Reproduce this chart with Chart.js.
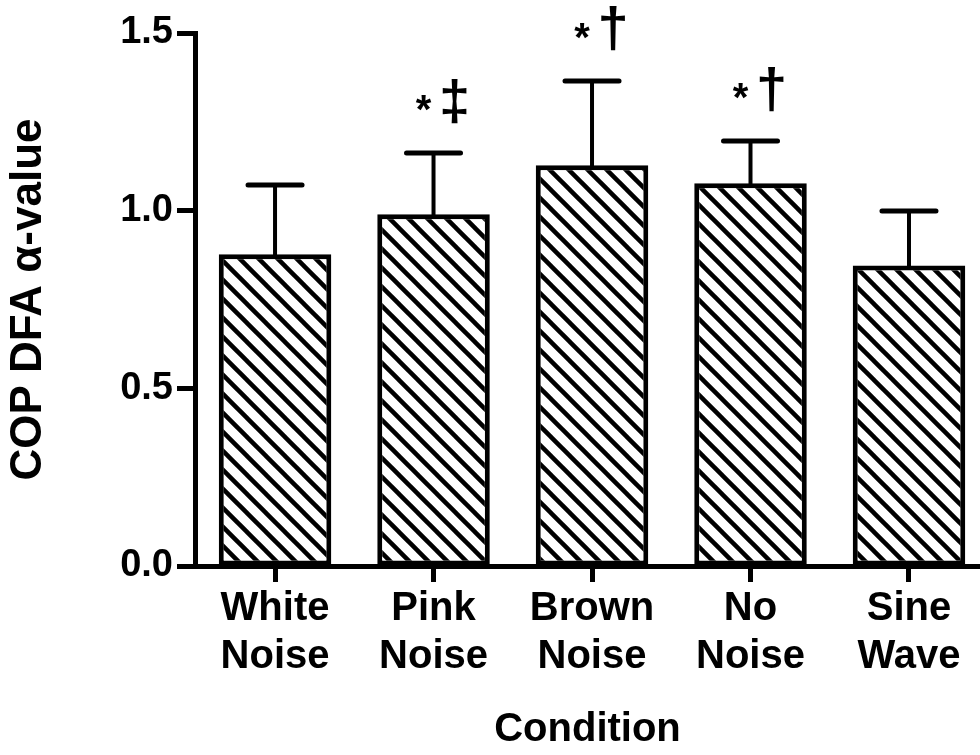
<!DOCTYPE html>
<html>
<head>
<meta charset="utf-8">
<script src="https://cdn.jsdelivr.net/npm/chart.js@4.4.1/dist/chart.umd.min.js"></script>
<style>
  html, body { margin: 0; padding: 0; background: #fff; }
</style>
</head>
<body>
<canvas id="dfaChart" width="980" height="755"></canvas>
<script>
// values
const conditions = [['White', 'Noise'], ['Pink', 'Noise'], ['Brown', 'Noise'], ['No', 'Noise'], ['Sine', 'Wave']];
const meanAlpha = [0.877, 0.99, 1.128, 1.077, 0.846];
const sdAlpha = [0.195, 0.172, 0.237, 0.119, 0.153];
const stars = ['', '*', '*', '*', ''];
const daggers = ['', '‡', '†', '†', ''];
const yTicks = [0, 0.5, 1.0, 1.5];

const FONT = "'Liberation Sans', Arial, Helvetica, sans-serif";

// diagonal hatch fill for the bars
function makeHatch() {
    const s = 19;
    const c = document.createElement('canvas');
    c.width = s;
    c.height = s;
    const g = c.getContext('2d');
    g.fillStyle = '#fff';
    g.fillRect(0, 0, s, s);
    g.strokeStyle = '#000';
    g.lineWidth = 4.5;
    // lines run past the tile edges so the tiles join without gaps
    [-s, 0, s].forEach(k => {
        g.beginPath();
        g.moveTo(k - s, -s);
        g.lineTo(k + 2 * s, 2 * s);
        g.stroke();
    });
    return g.createPattern(c, 'repeat');
}

// draw glyph centred on (x, y) using its real ink box
function centredGlyph(ctx, txt, x, y) {
    const m = ctx.measureText(txt);
    const h = m.actualBoundingBoxAscent + m.actualBoundingBoxDescent;
    ctx.textAlign = 'center';
    ctx.textBaseline = 'alphabetic';
    ctx.fillText(txt, x, y + h / 2 - m.actualBoundingBoxDescent);
}

// SD bars (upper only) and significance marks
const errorBars = {
    id: 'errorBars',
    afterDatasetsDraw(chart) {
        const { ctx, scales: { x, y } } = chart;
        ctx.save();
        ctx.strokeStyle = '#000';
        ctx.fillStyle = '#000';
        ctx.lineCap = 'round';
        meanAlpha.forEach((m, i) => {
            const px = x.getPixelForValue(i);
            const base = y.getPixelForValue(m);
            const top = y.getPixelForValue(m + sdAlpha[i]);
            ctx.lineWidth = 4;
            ctx.beginPath();
            ctx.moveTo(px, base);
            ctx.lineTo(px, top);
            ctx.stroke();
            ctx.lineWidth = 5;
            ctx.beginPath();
            ctx.moveTo(px - 27, top);
            ctx.lineTo(px + 27, top);
            ctx.stroke();

            if (stars[i]) {
                ctx.font = 'bold 40px ' + FONT;
                centredGlyph(ctx, stars[i], px - 10, top - 50);
            }
            if (daggers[i]) {
                ctx.font = 'bold 56px ' + FONT;
                centredGlyph(ctx, daggers[i], px + 21, top - 52);
            }
        });
        ctx.restore();
    }
};

const ctx = document.getElementById('dfaChart').getContext('2d');
new Chart(ctx, {
    type: 'bar',
    data: {
        datasets: [{
            data: meanAlpha.map((v, i) => ({ x: i, y: v })),
            backgroundColor: makeHatch(),
            borderColor: '#000',
            borderWidth: 5,
            borderSkipped: false,
            barPercentage: 0.71,
            categoryPercentage: 1
        }]
    },
    options: {
        responsive: false,
        animation: false,
        layout: { padding: { left: 0, right: 0, top: 33, bottom: 0 } },
        plugins: { legend: { display: false }, tooltip: { enabled: false } },
        scales: {
            x: {
                type: 'linear',
                offset: false,
                min: -0.505,
                max: 4.448,
                afterBuildTicks: s => { s.ticks = conditions.map((c, i) => ({ value: i })); },
                afterFit: s => { s.height = 189; },
                ticks: {
                    callback: v => conditions[v],
                    color: '#000',
                    font: { family: FONT, size: 40, weight: 'bold' },
                    padding: 3,
                    maxRotation: 0,
                    autoSkip: false
                },
                grid: { offset: false, drawOnChartArea: false, drawTicks: true, tickLength: 16, tickWidth: 5, tickColor: '#000' },
                border: { color: '#000', width: 5 },
                title: {
                    display: true,
                    text: 'Condition',
                    color: '#000',
                    font: { family: FONT, size: 40, weight: 'bold' },
                    padding: { top: 0, bottom: 1 }
                }
            },
            y: {
                min: 0,
                max: 1.5,
                afterBuildTicks: s => { s.ticks = yTicks.map(v => ({ value: v })); },
                afterFit: s => { s.width = 195; },
                ticks: {
                    callback: v => v.toFixed(1),
                    color: '#000',
                    font: { family: FONT, size: 38, weight: 'bold' },
                    padding: 4
                },
                grid: { drawOnChartArea: false, drawTicks: true, tickLength: 18, tickWidth: 5, tickColor: '#000' },
                border: { color: '#000', width: 5 },
                title: {
                    display: true,
                    text: 'COP DFA α-value',
                    color: '#000',
                    font: { family: FONT, size: 44, weight: 'bold' },
                    padding: { top: 2, bottom: 0 }
                }
            }
        }
    },
    plugins: [errorBars]
});
</script>
</body>
</html>
